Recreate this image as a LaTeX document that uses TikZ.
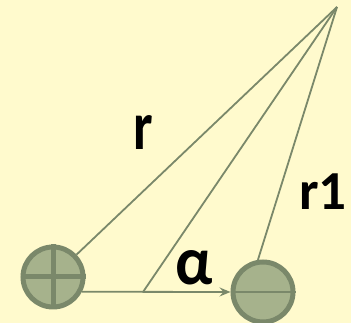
\documentclass[tikz,border=0pt]{standalone}
\usepackage{fontspec}
\setmainfont{Carlito}
\usepackage{xcolor}
\usepackage{graphicx}
\usetikzlibrary{arrows.meta}
\definecolor{bgyel}{RGB}{255,250,205}
\definecolor{sage}{RGB}{122,136,106}
\definecolor{sagefill}{RGB}{166,178,140}
\tikzset{charge/.style={circle,draw=sage,fill=sagefill,line width=5pt,minimum size=60pt,inner sep=0pt},
  ray/.style={draw=sage,line width=1.8pt},
  lbl/.style={anchor=base,inner sep=0pt,font=\bfseries\fontsize{55}{60}\selectfont}}

\begin{document}
\begin{tikzpicture}[x=1pt,y=1pt]
\fill[bgyel](0,0)rectangle(351,323);\useasboundingbox(0,0)rectangle(351,323);
\node[charge](pos)at(53,46){};\node[charge](neg)at(263,31){};
\draw[sage,line width=5pt](pos.north)--(pos.south)(pos.west)--(pos.east);
\draw[sage,line width=2.5pt](neg.west)--(neg.east);
\coordinate(P)at(337,316);\coordinate(M)at(143,31);
\draw[ray](P)--(pos);\draw[ray](P)--(M);\draw[ray](P)--(neg.99);
\draw[ray,-{Stealth[length=11pt,width=9pt,inset=4pt]}](pos.-27)--(neg.west);
\node[lbl](r)at(143,173){\scalebox{1}[1.25]{r}};
\node[lbl](r1)at(323,113){r1};
\node[lbl](al)at(194,38){\scalebox{1.15}[1.25]{α}};
\end{tikzpicture}
\end{document}
